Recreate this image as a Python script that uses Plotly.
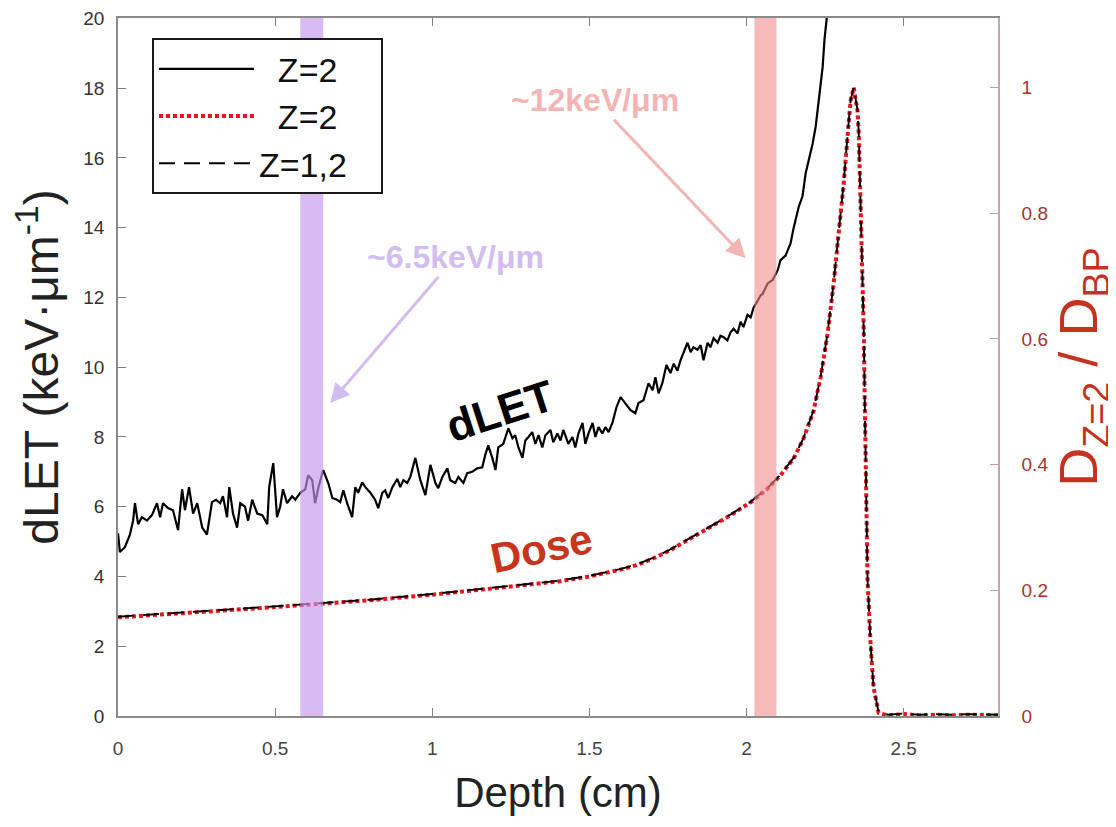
import plotly.graph_objects as go

# ---------------- data ----------------
depth_let = [0.000, 0.006, 0.022, 0.038, 0.048, 0.054, 0.064, 0.076, 0.092, 0.108,
             0.124, 0.134, 0.143, 0.159, 0.175, 0.191, 0.204, 0.213, 0.226, 0.239,
             0.252, 0.268, 0.283, 0.299, 0.312, 0.325, 0.334, 0.347, 0.354, 0.366,
             0.379, 0.389, 0.404, 0.414, 0.427, 0.443, 0.459, 0.475, 0.481, 0.494,
             0.506, 0.516, 0.525, 0.538, 0.554, 0.564, 0.580, 0.596, 0.605, 0.618,
             0.627, 0.637, 0.653, 0.669, 0.682, 0.697, 0.707, 0.717, 0.729, 0.745,
             0.755, 0.764, 0.777, 0.787, 0.803, 0.818, 0.828, 0.841, 0.850, 0.860,
             0.873, 0.889, 0.898, 0.908, 0.920, 0.930, 0.946, 0.962, 0.978, 0.994,
             1.010, 1.019, 1.032, 1.048, 1.057, 1.073, 1.083, 1.099, 1.111, 1.127,
             1.143, 1.159, 1.169, 1.178, 1.191, 1.201, 1.210, 1.226, 1.242, 1.255,
             1.264, 1.274, 1.287, 1.296, 1.306, 1.318, 1.328, 1.338, 1.350, 1.360,
             1.376, 1.385, 1.398, 1.408, 1.417, 1.433, 1.446, 1.455, 1.465, 1.478,
             1.487, 1.497, 1.510, 1.519, 1.529, 1.541, 1.551, 1.561, 1.573, 1.586,
             1.599, 1.615, 1.631, 1.646, 1.656, 1.672, 1.688, 1.701, 1.710, 1.720,
             1.732, 1.745, 1.758, 1.768, 1.780, 1.790, 1.803, 1.812, 1.822, 1.831,
             1.844, 1.854, 1.863, 1.876, 1.885, 1.895, 1.908, 1.917, 1.927, 1.939,
             1.949, 1.959, 1.971, 1.981, 1.990, 2.003, 2.013, 2.022, 2.035, 2.045,
             2.051, 2.067, 2.083, 2.099, 2.108, 2.124, 2.140, 2.150, 2.166, 2.178,
             2.188, 2.197, 2.210, 2.220, 2.229, 2.242, 2.248, 2.255, 2.262]
dlet_z2 = [5.24, 4.70, 4.84, 5.20, 5.60, 6.10, 5.50, 5.70, 5.60, 5.76,
           6.10, 5.70, 6.10, 5.96, 5.90, 5.33, 6.50, 5.90, 6.56, 5.80,
           6.10, 5.40, 5.20, 6.13, 6.20, 6.10, 6.30, 5.70, 6.56, 5.80,
           5.40, 6.10, 6.00, 5.60, 6.20, 5.80, 5.76, 5.50, 6.56, 7.25,
           5.70, 6.00, 6.50, 6.10, 6.30, 6.20, 6.40, 6.50, 6.90, 6.76,
           6.10, 6.53, 7.05, 6.68, 6.25, 6.20, 6.13, 6.47, 6.10, 5.70,
           6.56, 6.40, 6.70, 6.56, 6.40, 6.20, 5.96, 6.40, 6.47, 6.25,
           6.56, 6.80, 6.56, 6.76, 6.68, 6.85, 7.40, 6.76, 6.33, 7.20,
           6.68, 6.53, 6.85, 7.10, 6.76, 6.68, 6.85, 6.68, 6.96, 7.00,
           7.10, 7.13, 7.50, 7.76, 7.40, 7.05, 7.70, 7.80, 8.25, 7.96,
           8.05, 7.70, 7.40, 7.90, 8.00, 8.14, 7.80, 8.05, 7.70, 8.05,
           8.20, 7.85, 8.10, 7.90, 8.20, 7.80, 8.00, 7.70, 8.10, 8.40,
           7.80, 8.10, 8.40, 8.00, 8.28, 8.10, 8.28, 8.14, 8.40, 8.85,
           9.14, 8.97, 8.77, 8.68, 8.97, 9.05, 9.54, 9.34, 9.71, 9.25,
           9.54, 10.06, 9.83, 10.10, 9.90, 10.20, 10.50, 10.70, 10.43, 10.57,
           10.50, 10.63, 10.20, 10.70, 10.57, 10.83, 10.70, 10.90, 10.86, 10.77,
           11.00, 11.10, 10.97, 11.30, 11.15, 11.50, 11.43, 11.70, 11.90, 12.06,
           12.10, 12.40, 12.50, 12.78, 13.07, 13.20, 13.55, 14.00, 14.60, 14.90,
           15.56, 15.90, 16.40, 16.90, 17.65, 18.60, 19.40, 20.00, 21.50]

depth_dose = [0.00, 0.20, 0.40, 0.60, 0.80, 1.00, 1.20, 1.40, 1.50, 1.55,
              1.60, 1.65, 1.70, 1.75, 1.80, 1.854, 1.907, 1.960, 2.013, 2.067,
              2.108, 2.150, 2.180, 2.213, 2.236, 2.258, 2.277, 2.293, 2.309, 2.322,
              2.331, 2.341, 2.353, 2.357, 2.363, 2.369, 2.373, 2.376, 2.379, 2.385,
              2.395, 2.404, 2.420, 2.450, 2.500, 2.550, 2.600, 2.650, 2.700, 2.750,
              2.800]
dose_z2 = [0.157, 0.163, 0.170, 0.177, 0.184, 0.193, 0.203, 0.214, 0.222, 0.227,
           0.233, 0.240, 0.250, 0.262, 0.276, 0.291, 0.307, 0.323, 0.340, 0.362,
           0.383, 0.410, 0.440, 0.485, 0.540, 0.609, 0.688, 0.768, 0.847, 0.927,
           0.979, 1.000, 0.963, 0.927, 0.820, 0.714, 0.609, 0.502, 0.375, 0.216,
           0.110, 0.046, 0.005, 0.001, 0.003, 0.001, 0.002, 0.001, 0.002, 0.001,
           0.001]
dose_z12 = [0.158, 0.164, 0.171, 0.178, 0.185, 0.194, 0.204, 0.215, 0.223, 0.228,
            0.234, 0.241, 0.251, 0.263, 0.277, 0.292, 0.308, 0.324, 0.341, 0.363,
            0.384, 0.411, 0.441, 0.486, 0.541, 0.610, 0.689, 0.769, 0.848, 0.928,
            0.980, 1.000, 0.964, 0.928, 0.821, 0.715, 0.610, 0.503, 0.376, 0.217,
            0.111, 0.047, 0.006, 0.002, 0.004, 0.002, 0.003, 0.002, 0.003, 0.002,
            0.002]

band_purple = [0.58, 0.653]
band_pink = [2.025, 2.095]

x_ticks = [0, 0.5, 1, 1.5, 2, 2.5]
y_ticks = [0, 2, 4, 6, 8, 10, 12, 14, 16, 18, 20]
y2_ticks = [0, 0.2, 0.4, 0.6, 0.8, 1]

FONT = "Liberation Sans, Arial, Helvetica, sans-serif"
NB = "\u00a0"

fig = go.Figure()
fig.add_trace(go.Scatter(x=depth_let, y=dlet_z2, mode="lines",
                         name=NB * 2 + "Z=2" + NB * 4,
                         legendgroup="a", line=dict(color="black", width=2.2)))
fig.add_trace(go.Scatter(x=depth_dose, y=dose_z2, mode="lines",
                         name=NB * 2 + "Z=2" + NB * 4,
                         yaxis="y2", legendgroup="b",
                         line=dict(color="#e8141c", width=4, dash="4px,3px")))
fig.add_trace(go.Scatter(x=depth_dose, y=dose_z12, mode="lines",
                         name="Z=1,2" + NB * 2,
                         yaxis="y2", legendgroup="c",
                         line=dict(color="black", width=1.9, dash="16px,9px")))

fig.add_shape(type="rect", xref="x", yref="paper", x0=band_purple[0], x1=band_purple[1],
              y0=0, y1=1, fillcolor="rgba(196,150,236,0.65)", line=dict(width=0), layer="above")
fig.add_shape(type="rect", xref="x", yref="paper", x0=band_pink[0], x1=band_pink[1],
              y0=0, y1=1, fillcolor="rgba(242,140,140,0.6)", line=dict(width=0), layer="above")

lav = "#d2bdf1"
pink = "#f5b4b4"
# labelled arrows: text sits at the tail, arrow points at the band
fig.add_annotation(x=0.675, y=8.97, ax=1.073, ay=13.15, axref="x", ayref="y",
                   text="<b>~6.5keV/μm</b>", showarrow=True, arrowhead=2, arrowsize=1.3,
                   arrowwidth=3, arrowcolor=lav,
                   font=dict(size=32, color=lav, family=FONT))
fig.add_annotation(x=1.997, y=13.12, ax=1.519, ay=17.65, axref="x", ayref="y",
                   text="<b>~12keV/μm</b>", showarrow=True, arrowhead=2, arrowsize=1.3,
                   arrowwidth=3, arrowcolor=pink,
                   font=dict(size=32, color=pink, family=FONT))
fig.add_annotation(x=1.217, y=8.75, text="<b>dLET</b>", showarrow=False, textangle=-18,
                   font=dict(size=44, color="black", family=FONT))
fig.add_annotation(x=1.347, y=4.81, text="<b>Dose</b>", showarrow=False, textangle=-12,
                   font=dict(size=42, color="#c8351c", family=FONT))

fig.update_layout(
    width=1116, height=827,
    margin=dict(l=110, r=126, t=10, b=119, autoexpand=False),
    plot_bgcolor="white", paper_bgcolor="white",
    font=dict(family=FONT, color="#333"),
    showlegend=True,
    legend=dict(x=0.0386, y=0.971, xanchor="left", yanchor="top",
                bgcolor="white", bordercolor="#1a1a1a", borderwidth=2,
                font=dict(size=34, color="#111", family=FONT),
                tracegroupgap=0, itemwidth=95),
    xaxis=dict(range=[0, 2.8], tickvals=x_ticks, ticks="inside", ticklen=8,
               tickcolor="#808080", showline=True, linecolor="#8a8a8a", linewidth=1.5,
               mirror="ticks", showgrid=False, zeroline=False,
               tickfont=dict(size=19, color="#444"), ticklabelstandoff=14,
               title=dict(text="Depth (cm)", font=dict(size=42, color="#222"), standoff=20)),
    yaxis=dict(range=[0, 20.01], tickvals=y_ticks, ticks="inside", ticklen=8,
               tickcolor="#808080", showline=True, linecolor="#8a8a8a", linewidth=1.5,
               showgrid=False, zeroline=False, ticklabeloverflow="allow",
               tickfont=dict(size=19, color="#333"), ticklabelstandoff=8,
               title=dict(text="dLET (keV·μm<sup>-1</sup>)", font=dict(size=48, color="#222"),
                          standoff=18)),
    yaxis2=dict(range=[0, 1.1106], tickvals=y2_ticks, overlaying="y", side="right",
                ticks="inside", ticklen=8, tickcolor="#c49aa0", showline=True,
                linecolor="#c8a3a9", linewidth=1.5, showgrid=False, zeroline=False,
                tickfont=dict(size=19, color="#a3352b"), ticklabelstandoff=18,
                title=dict(text="D<sub>Z=2</sub>" + NB + "/" + NB + "D<sub>BP</sub>",
                           font=dict(size=54, color="#c3331f"), standoff=10)),
)

fig.write_html("out.html")
